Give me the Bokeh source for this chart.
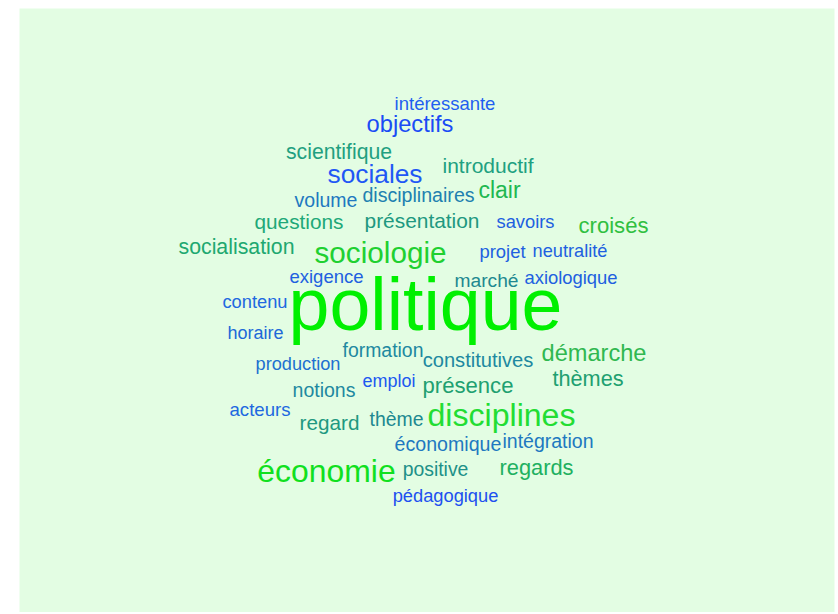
from bokeh.plotting import figure
from bokeh.models import ColumnDataSource, Range1d
from bokeh.core.properties import value
from bokeh.embed import file_html
from bokeh.resources import INLINE

words = ["intéressante", "objectifs", "scientifique", "introductif", "sociales", "clair",
         "volume", "disciplinaires", "questions", "présentation", "savoirs", "croisés",
         "socialisation", "sociologie", "projet", "neutralité", "marché", "axiologique",
         "exigence", "contenu", "horaire", "politique", "formation", "constitutives",
         "production", "démarche", "thèmes", "notions", "emploi", "présence",
         "acteurs", "regard", "thème", "disciplines", "économique", "intégration",
         "économie", "positive", "regards", "pédagogique"]

x_pos = [444.5, 409.5, 338.5, 487.5, 374.5, 499,
         325.5, 418, 298.5, 421.5, 525, 613,
         236, 380, 502, 569.5, 486, 570.5,
         326, 254.5, 255, 425, 382.5, 477.5,
         297.5, 593.5, 587.5, 323.5, 388.5, 467.5,
         259.5, 329, 396, 501, 447.5, 547.5,
         326, 435, 536, 445]

y_pos = [109, 132, 158, 172, 183, 198,
         206, 201, 228, 227, 227, 233,
         254, 262, 257, 257, 287, 283,
         282, 307, 339, 330, 356, 367,
         370, 361, 386, 396, 387, 393,
         416, 429, 425, 426, 450, 447,
         482, 475, 475, 501]

font_px = [18.5, 23.7, 21.2, 21, 26.3, 23,
           19.5, 19.6, 20.8, 20.9, 18.3, 22.1,
           21.3, 29.7, 18.4, 18.2, 19.2, 18.4,
           18.5, 18.3, 18, 73.5, 19.4, 20.1,
           18.2, 23.6, 21.7, 19.5, 18, 22.1,
           18.6, 20.7, 19.4, 32.1, 19.6, 19.5,
           31.9, 19.4, 21.8, 18.3]

colors = ["#1f5ff0", "#1a4cf5", "#1fa080", "#20a080", "#1f58f5", "#20b850",
          "#2078c0", "#2080b0", "#20a878", "#209880", "#2060e0", "#30c040",
          "#20a870", "#20d030", "#2060e0", "#2060e0", "#208890", "#2060e0",
          "#2060e0", "#2068e0", "#2068d8", "#00f000", "#2088a0", "#2088a0",
          "#2070d0", "#30b850", "#20a070", "#2088a0", "#2058f0", "#20a070",
          "#2068e0", "#209880", "#208890", "#22dd33", "#2078c0", "#2078c0",
          "#10e020", "#209088", "#20b060", "#2050f0"]

# renderer places the glyph slightly below the anchor; compensate
y_draw = [y - 0.35 * s for y, s in zip(y_pos, font_px)]

src = ColumnDataSource(dict(
    x=x_pos, y=y_draw, text=words,
    size=[f"{s}px" for s in font_px], color=colors))

p = figure(width=836, height=612, output_backend="svg", toolbar_location=None,
           x_range=Range1d(19, 834), y_range=Range1d(612, 8),
           min_border_left=19, min_border_right=2, min_border_top=8, min_border_bottom=0)
p.axis.visible = False
p.grid.visible = False
p.outline_line_color = None
p.background_fill_color = "#e3fde3"
p.border_fill_color = "white"

p.text(x="x", y="y", text="text", source=src, text_font=value("Liberation Sans"),
       text_font_size="size", text_color="color", text_align="center",
       text_baseline="alphabetic")

open("out.html", "w").write(file_html(p, INLINE))
